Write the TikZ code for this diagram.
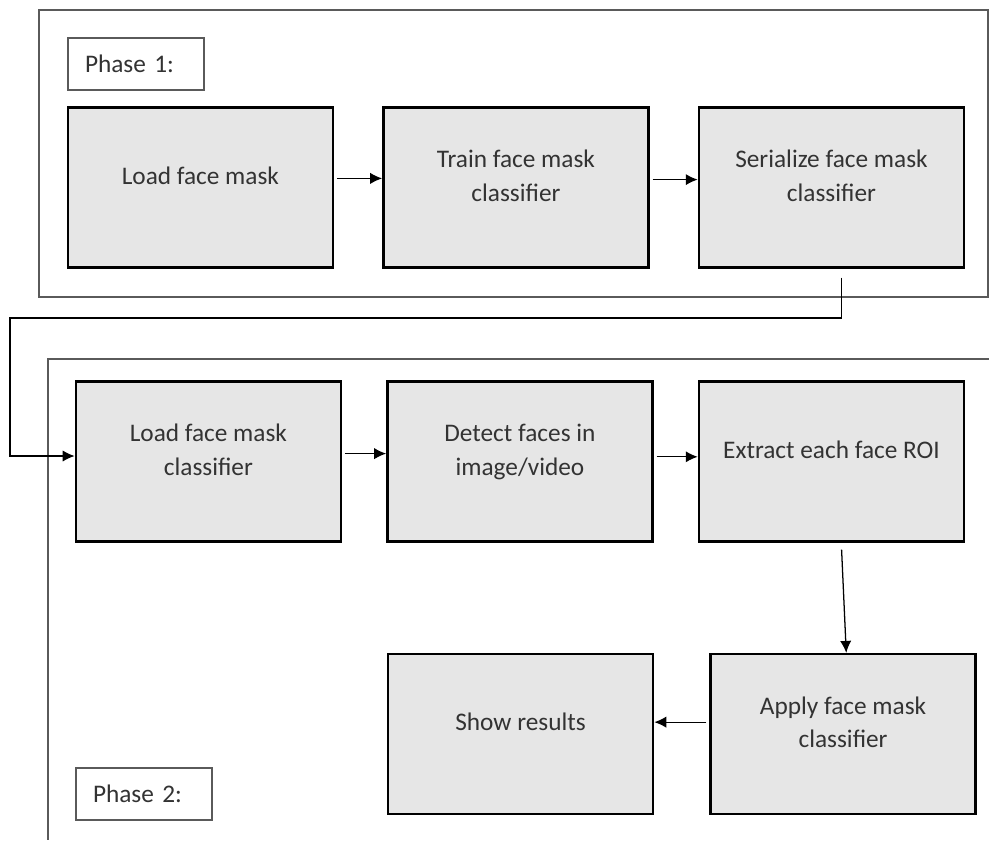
\documentclass[tikz,border=0pt]{standalone}
\usepackage{fontspec}
\setmainfont{Carlito}
\usetikzlibrary{arrows.meta,positioning}
\definecolor{boxgray}{HTML}{E6E6E6}
\definecolor{textgray}{HTML}{333333}
\definecolor{framegray}{HTML}{5A5A5A}
\tikzset{
    %Define standard arrow tip
    >={Latex[length=8.5pt,width=8pt]},
    %Define style for process boxes
    block/.style={
           rectangle,
           draw=black,
           line width=1.8pt,
           fill=boxgray,
           text=textgray,
           minimum width=6.625cm,
           minimum height=4cm,
           text depth=0.6cm,
           align=center,
           font=\fontsize{18}{24}\selectfont},
    %Define style for phase labels
    phaselabel/.style={
           rectangle,
           draw=framegray,
           line width=0.9pt,
           fill=white,
           text=textgray,
           text width=2.55cm,
           inner xsep=0.425cm,
           minimum height=1.3cm,
           align=left,
           font=\fontsize{18}{24}\selectfont},
    % Define style for phase frames
    frame/.style={
           draw=framegray,
           line width=1pt},
    % Define arrow style
    arrow/.style={
           ->,
           line width=0.9pt,
           shorten <=2pt,
           }
}
\begin{document}
\begin{tikzpicture}
    \useasboundingbox (0,0) rectangle (24.725,-21);
    % phase frames
    \draw[frame] (0.975,-0.25) rectangle (24.7,-7.425);
    \draw[frame] (24.725,-8.975) -| (1.2,-21);

    % phase 1
    \node [phaselabel] (P1) at (3.4,-1.6) {Phase 1:};
    \node [block] (L1) at (5.01,-4.69) {Load face mask};
    \node [block, right=1.2cm of L1] (T1) {Train face mask\\classifier};
    \node [block, right=1.2cm of T1] (S1) {Serialize face mask\\classifier};

    % phase 2
    \node [block] (L2) at (5.21,-11.54) {Load face mask\\classifier};
    \node [block, right=1.1cm of L2] (D2) {Detect faces in\\image/video};
    \node [block, right=1.1cm of D2] (E2) {Extract each face ROI};
    \node [block, below=2.75cm of E2, xshift=0.29cm] (A2) {Apply face mask\\classifier};
    \node [block, left=1.375cm of A2] (R2) {Show results};
    \node [phaselabel] (P2) at (3.6,-19.85) {Phase 2:};

    \coordinate (bend) at (0.25,-7.95);

    \draw[arrow] ([yshift=0.23cm]L1.east) -- ([yshift=0.23cm]T1.west);
    \draw[arrow] ([yshift=0.2cm]T1.east) -- ([yshift=0.2cm]S1.west);
    \draw[arrow] ([xshift=0.25cm,yshift=-0.15cm]S1.south) |- (bend) |- ([yshift=0.14cm]L2.west);
    \draw[arrow] ([yshift=0.2cm]L2.east) -- ([yshift=0.2cm]D2.west);
    \draw[arrow] ([yshift=0.12cm]D2.east) -- ([yshift=0.12cm]E2.west);
    \draw[arrow] ([xshift=0.25cm,yshift=-0.1cm]E2.south) -- ([xshift=0.08cm]A2.north);
    \draw[arrow] ([yshift=0.3cm]A2.west) -- ([yshift=0.3cm]R2.east);
\end{tikzpicture}
\end{document}
